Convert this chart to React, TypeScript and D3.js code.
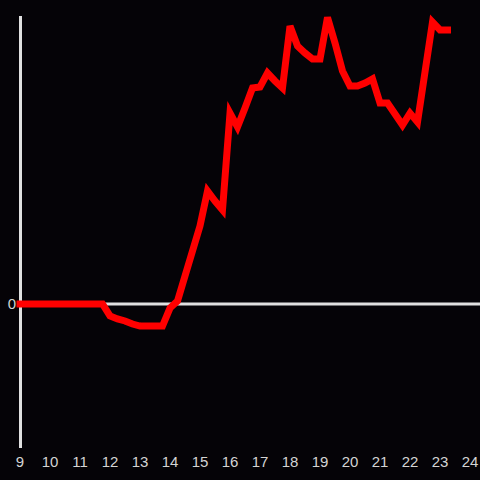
import React from "react";
import * as d3 from "d3";

const hourTicks = [9, 10, 11, 12, 13, 14, 15, 16, 17, 18, 19, 20, 21, 22, 23, 24];
const yTicks = [0];

// times in hours (15-minute steps) from 9:00 to 23:15
const times = [
  9, 9.25, 9.5, 9.75, 10, 10.25, 10.5, 10.75, 11, 11.25, 11.5, 11.75,
  12, 12.25, 12.5, 12.75, 13, 13.25, 13.5, 13.75,
  14, 14.25, 14.5, 14.75, 15, 15.25, 15.5, 15.75,
  16, 16.25, 16.5, 16.75, 17, 17.25, 17.5, 17.75,
  18, 18.25, 18.5, 18.75, 19, 19.25, 19.5, 19.75,
  20, 20.25, 20.5, 20.75, 21, 21.25, 21.5, 21.75,
  22, 22.25, 22.5, 22.75, 23, 23.25,
];
const values = [
  0, 0, 0, 0, 0, 0, 0, 0, 0, 0, 0, 0,
  -0.083, -0.104, -0.118, -0.139, -0.153, -0.153, -0.153, -0.153,
  -0.028, 0.021, 0.194, 0.368, 0.542, 0.785, 0.715, 0.653,
  1.326, 1.229, 1.361, 1.5, 1.507, 1.604, 1.549, 1.5,
  1.93, 1.792, 1.743, 1.701, 1.701, 1.99, 1.813, 1.618,
  1.514, 1.514, 1.535, 1.563, 1.396, 1.396, 1.319, 1.243,
  1.326, 1.264, 1.611, 1.958, 1.903, 1.903,
];

const W = 480;
const H = 480;

export default function App() {
  const x = d3.scaleLinear().domain([9, 24]).range([20, 470]);
  const y = d3.scaleLinear().domain([-1, 2]).range([448, 16]);
  const data = times.map((t, i) => [t, values[i]] as [number, number]);
  const line = d3
    .line<[number, number]>()
    .x((d) => x(d[0]))
    .y((d) => y(d[1]));

  const axisColor = "#e0e0e0";
  const textColor = "#d4d4d4";
  const font = "'Liberation Sans', Arial, sans-serif";

  return (
    <svg
      width={W}
      height={H}
      style={{ position: "fixed", left: 0, top: 0, display: "block" }}
    >
      <rect x={0} y={0} width={W} height={H} fill="#050307" />
      {/* zero line */}
      <line x1={20} x2={480} y1={y(0)} y2={y(0)} stroke={axisColor} strokeWidth={3} />
      {/* y axis */}
      <line x1={20.5} x2={20.5} y1={16} y2={448} stroke={axisColor} strokeWidth={3} />
      {yTicks.map((t) => (
        <text
          key={"y" + t}
          x={16}
          y={y(t)}
          dy="0.35em"
          textAnchor="end"
          fontSize={15}
          fontFamily={font}
          fill={textColor}
        >
          {t}
        </text>
      ))}
      {hourTicks.map((t) => (
        <text
          key={"x" + t}
          x={x(t)}
          y={467}
          textAnchor="middle"
          fontSize={15}
          fontFamily={font}
          fill={textColor}
        >
          {t}
        </text>
      ))}
      <path
        d={line(data) || ""}
        fill="none"
        stroke="#ff0000"
        strokeWidth={7}
        strokeLinecap="square"
        strokeLinejoin="miter"
      />
    </svg>
  );
}
